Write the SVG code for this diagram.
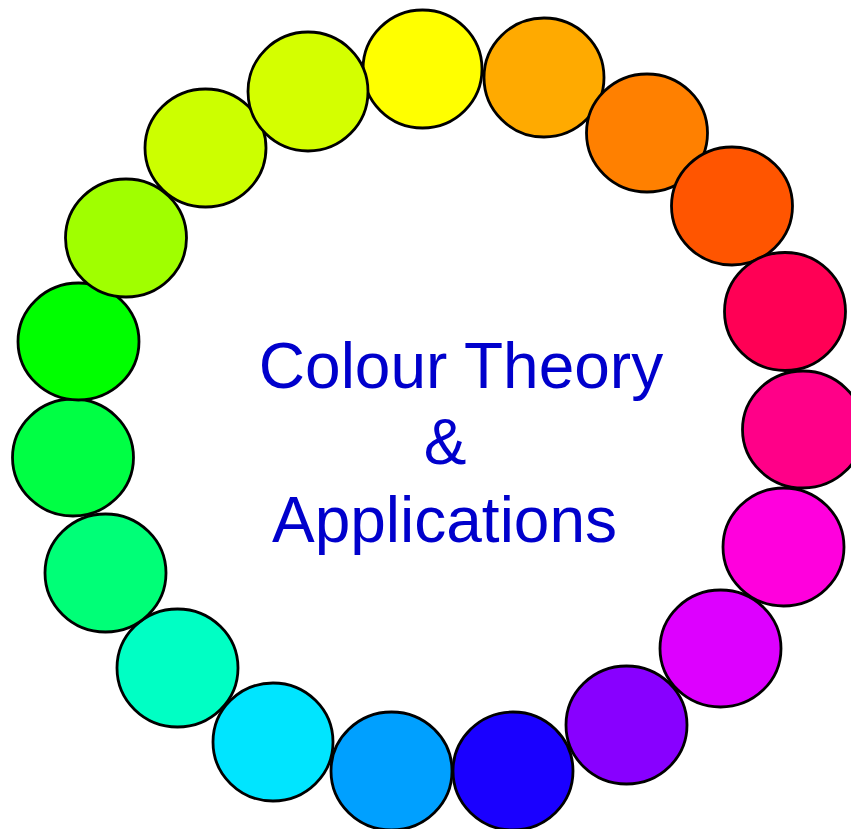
<svg xmlns="http://www.w3.org/2000/svg" width="851" height="829" viewBox="0 0 851 829">
<style>
.c{stroke:#000;stroke-width:2.8}
.t{font-family:"Liberation Sans",Arial,sans-serif;font-size:64px;fill:#0000CC;text-anchor:middle}
</style>
<rect width="851" height="829" fill="#fff"/>
<g id="circles">
<ellipse id="c1" class="c" cx="422.5" cy="69" rx="59.5" ry="59" fill="#FFFF00"/>
<ellipse id="c2" class="c" cx="544" cy="77.5" rx="60" ry="59.5" fill="#FFAA00"/>
<ellipse id="c3" class="c" cx="647" cy="133" rx="60.5" ry="59" fill="#FF8000"/>
<ellipse id="c4" class="c" cx="732" cy="206" rx="60.5" ry="59" fill="#FF5500"/>
<ellipse id="c5" class="c" cx="785" cy="311.5" rx="60.5" ry="59" fill="#FF0055"/>
<ellipse id="c6" class="c" cx="803" cy="429.5" rx="60.5" ry="58.5" fill="#FF0088"/>
<ellipse id="c7" class="c" cx="783.5" cy="547" rx="60.5" ry="59" fill="#FF00DD"/>
<ellipse id="c8" class="c" cx="720.5" cy="648.5" rx="60.5" ry="58.5" fill="#DD00FF"/>
<ellipse id="c9" class="c" cx="626.5" cy="725" rx="60.5" ry="59" fill="#8800FF"/>
<ellipse id="c10" class="c" cx="513" cy="771" rx="60" ry="59" fill="#1A00FF"/>
<ellipse id="c11" class="c" cx="391.5" cy="771" rx="60.5" ry="59" fill="#00A0FF"/>
<ellipse id="c12" class="c" cx="273" cy="742" rx="60" ry="59" fill="#00E5FF"/>
<ellipse id="c13" class="c" cx="177.5" cy="668" rx="60.5" ry="59" fill="#00FFC4"/>
<ellipse id="c14" class="c" cx="105.5" cy="573" rx="60.5" ry="59" fill="#00FF77"/>
<ellipse id="c15" class="c" cx="73" cy="457.5" rx="60.5" ry="58.5" fill="#00FF44"/>
<ellipse id="c16" class="c" cx="78.5" cy="341.5" rx="60.5" ry="58.5" fill="#00FF00"/>
<ellipse id="c17" class="c" cx="126" cy="238" rx="60.5" ry="59" fill="#A0FF00"/>
<ellipse id="c18" class="c" cx="205.5" cy="148" rx="60.5" ry="59" fill="#CCFF00"/>
<ellipse id="c19" class="c" cx="308" cy="91.5" rx="60" ry="59.5" fill="#D4FF00"/>
</g>
<g id="title">
<text class="t" x="461" y="388">Colour Theory</text>
<text class="t" x="445" y="464">&amp;</text>
<text class="t" x="444.5" y="542">Applications</text>
</g>
</svg>
